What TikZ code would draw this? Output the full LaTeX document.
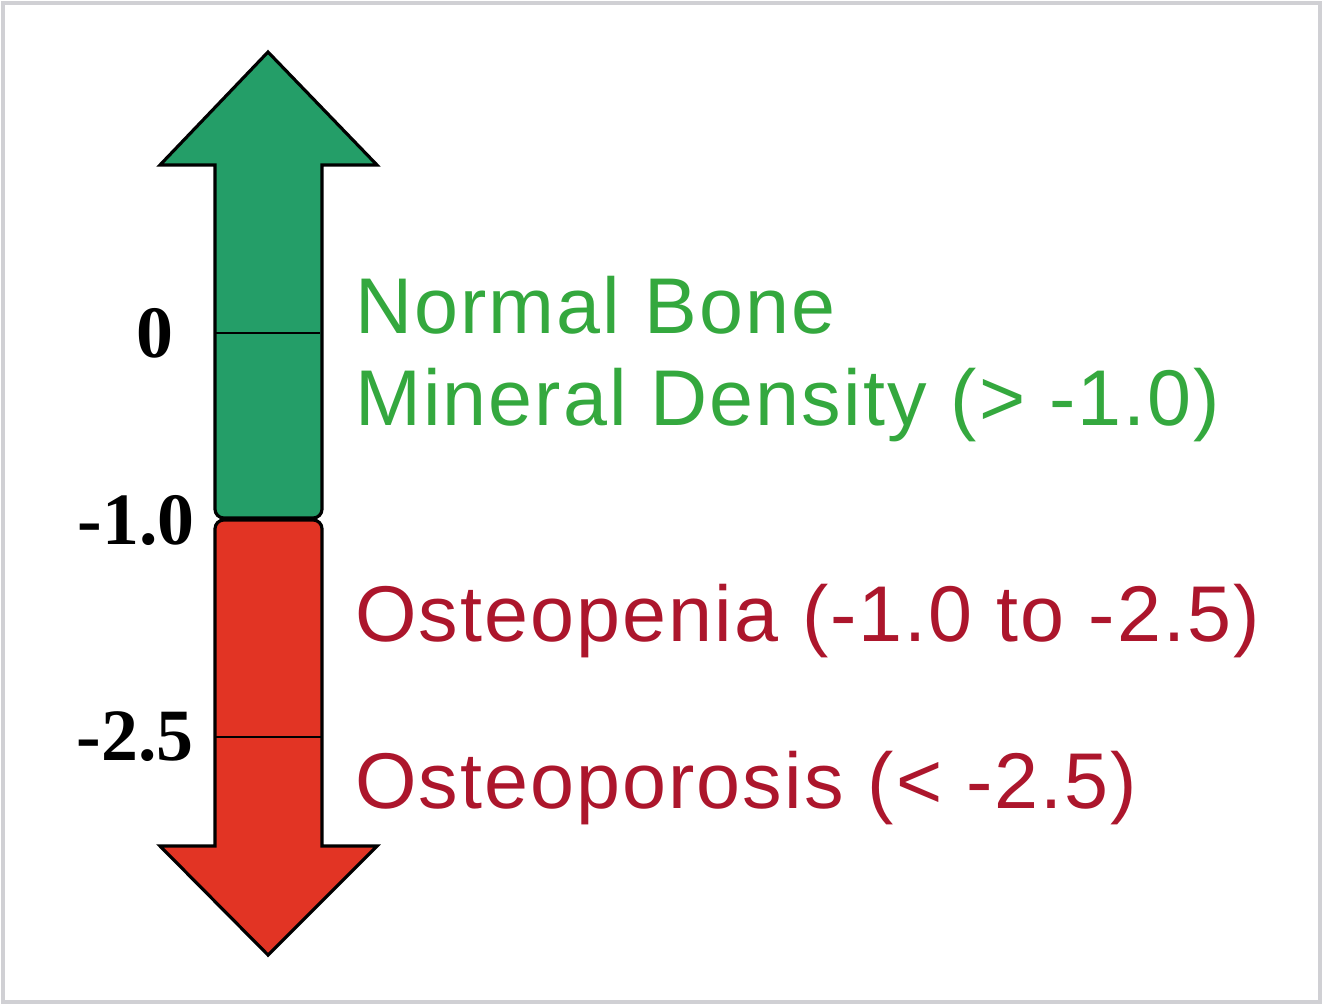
\documentclass[tikz,border=0pt]{standalone}
\usepackage{fontspec}
\setmainfont{Liberation Sans}
\newfontfamily\scorefont{Liberation Serif}
\newfontfamily\labelfont[LetterSpace=2.6]{Liberation Sans}
\usepackage{xcolor}
\usepackage{tikz}
\usetikzlibrary{positioning}
\definecolor{bonegreen}{RGB}{36, 158, 104}
\definecolor{bonered}{RGB}{226, 52, 36}
\definecolor{normaltext}{RGB}{52, 168, 62}
\definecolor{losstext}{RGB}{172, 22, 44}
\definecolor{framegray}{RGB}{208, 208, 212}

\begin{document}
\begin{tikzpicture}[x=0.02cm, y=-0.02cm,
    score/.style={font=\scorefont\bfseries\fontsize{42}{46}\selectfont, inner sep=0pt},
    normal/.style={text=normaltext, anchor=base west, inner sep=0pt,
                   font=\labelfont\fontsize{45}{52}\selectfont},
    loss/.style={text=losstext, anchor=base west, inner sep=0pt,
                 font=\labelfont\fontsize{45}{52}\selectfont},
    bar/.style={draw=black, line width=1.8pt, line join=miter},
    tick/.style={draw=black, line width=1pt}
]
    \useasboundingbox (0,0) rectangle (1323,1005);
    \draw[framegray, line width=2.2pt] (3,3) rectangle (1320,1002);

    % upper arrow: normal range
    \filldraw[bar, fill=bonegreen] (268,52) -- (377,165) -- (322,165)
        [rounded corners=5pt] -- (322,518) -- (215,518) [sharp corners]
        -- (215,165) -- (160,165) -- cycle;
    % lower arrow: bone loss
    \filldraw[bar, fill=bonered] (268,955) -- (377,846) -- (322,846)
        [rounded corners=5pt] -- (322,520) -- (215,520) [sharp corners]
        -- (215,846) -- (160,846) -- cycle;

    \coordinate (zeroL) at (215,333);
    \coordinate (zeroR) at (320,333);
    \coordinate (porL) at (215,737);
    \coordinate (porR) at (322,737);
    \draw[tick] (zeroL) -- (zeroR);
    \draw[tick] (porL) -- (porR);

    \node[score] (zero) at (155,333) {0};
    \node[score] (minusone) at (136,520) {-1.0};
    \node[score] (minustwo) at (135,737) {-2.5};

    \node[normal] (normalbone) at (355,333) {Normal Bone};
    \node[normal] (mineral) at (355,425) {Mineral Density (> -1.0)};
    \node[loss] (penia) at (355,641) {Osteopenia (-1.0 to -2.5)};
    \node[loss] (porosis) at (355,808) {Osteoporosis (< -2.5)};
\end{tikzpicture}
\end{document}
